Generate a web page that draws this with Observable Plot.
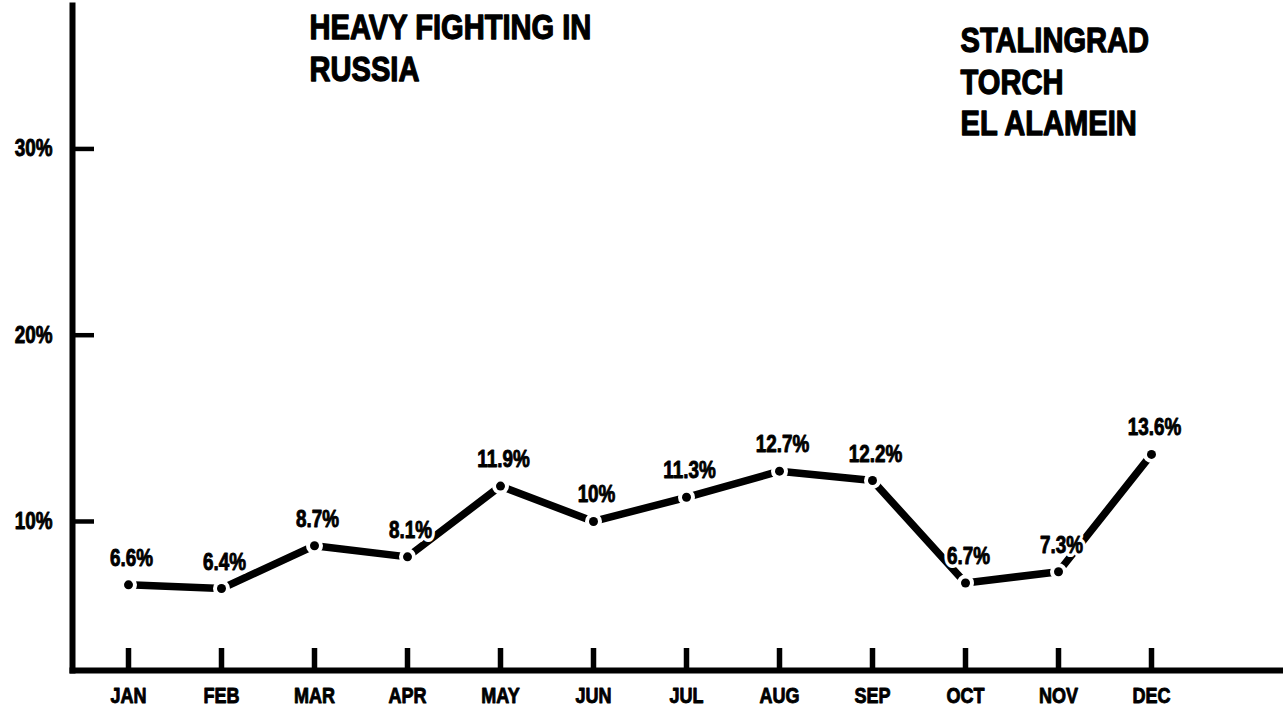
<!DOCTYPE html>
<html><head><meta charset="utf-8">
<script src="https://cdn.jsdelivr.net/npm/d3@7"></script>
<script src="https://cdn.jsdelivr.net/npm/@observablehq/plot@0.6"></script>
<style>
html,body{margin:0;padding:0;background:#fff;}
</style></head><body><div id="chart"></div>
<script>
const months = ["JAN","FEB","MAR","APR","MAY","JUN","JUL","AUG","SEP","OCT","NOV","DEC"];
const values = [6.6,6.4,8.7,8.1,11.9,10,11.3,12.7,12.2,6.7,7.3,13.6];
const valueLabels = ["6.6%","6.4%","8.7%","8.1%","11.9%","10%","11.3%","12.7%","12.2%","6.7%","7.3%","13.6%"];
const yTicks = [10,20,30];
const yTickLabels = ["10%","20%","30%"];
const annotationMonths = ["MAR","OCT"];
const annotationY = [37.45, 36.75];
const annotationTexts = ["HEAVY FIGHTING IN\nRUSSIA","STALINGRAD\nTORCH\nEL ALAMEIN"];

const data = months.map((m,i)=>({month:m, value:values[i], label:valueLabels[i]}));
const notes = annotationMonths.map((m,i)=>({month:m, y:annotationY[i], text:annotationTexts[i]}));
const FONT = "'Liberation Sans',Arial,Roboto,sans-serif";
const labelOpts = {x:"month", y:"value", text:"label", dx:3, dy:-19, lineAnchor:"bottom", fontSize:23, fontWeight:"bold"};

const chart = Plot.plot({
  width:1283, height:719, marginLeft:72, marginRight:0, marginTop:5, marginBottom:49,
  style:{background:"#fff", color:"#000", fontFamily:FONT},
  x:{type:"point", domain:months, range:[123,1155], padding:0, axis:null, label:null},
  y:{type:"linear", domain:[2,37.7], axis:null, label:null},
  marks:[
    Plot.frame({anchor:"left", stroke:"#000", strokeWidth:6}),
    Plot.frame({anchor:"bottom", stroke:"#000", strokeWidth:6}),
    Plot.axisY({ticks:yTicks, tickSize:22, dx:22, fill:"none", stroke:"#000", strokeWidth:4.5, label:null}),
    Plot.axisY({ticks:yTicks, tickSize:0, stroke:"none", tickPadding:20, tickFormat:(d)=>yTickLabels[yTicks.indexOf(d)], fontSize:23, fontWeight:"bold", fill:"#000", textStroke:"#000", textStrokeWidth:0.9, label:null}),
    Plot.axisX({tickSize:20, dy:-22, fill:"none", stroke:"#000", strokeWidth:5.5, label:null}),
    Plot.axisX({tickSize:0, stroke:"none", tickPadding:17, fontSize:22, fontWeight:"bold", fill:"#000", textStroke:"#000", textStrokeWidth:0.9, label:null}),
    Plot.line(data,{x:"month", y:"value", stroke:"#000", strokeWidth:7.5, strokeLinecap:"butt"}),
    Plot.dot(data,{x:"month", y:"value", r:4.5, fill:"#000", stroke:"#fff", strokeWidth:8, paintOrder:"stroke"}),
    Plot.text(data,{...labelOpts, fill:"#fff", stroke:"#fff", strokeWidth:8}),
    Plot.text(data,{...labelOpts, fill:"#000", stroke:"#000", strokeWidth:0.9}),
    Plot.text(notes,{x:"month", y:"y", text:"text", textAnchor:"start", lineAnchor:"top", dx:-5, fontSize:35.5, fontWeight:"bold", lineHeight:1.16, fill:"#000", stroke:"#000", strokeWidth:1.3})
  ]
});
document.getElementById("chart").appendChild(chart);
// condense glyphs horizontally about each text's anchor point (narrow gothic look)
chart.querySelectorAll("text").forEach(t => {
  const S = 0.82;
  const tr = t.getAttribute("transform") || "";
  const x = parseFloat(t.getAttribute("x")) || 0;
  t.setAttribute("transform", `${tr} translate(${x},0) scale(${S},1) translate(${-x},0)`);
});
</script></body></html>
